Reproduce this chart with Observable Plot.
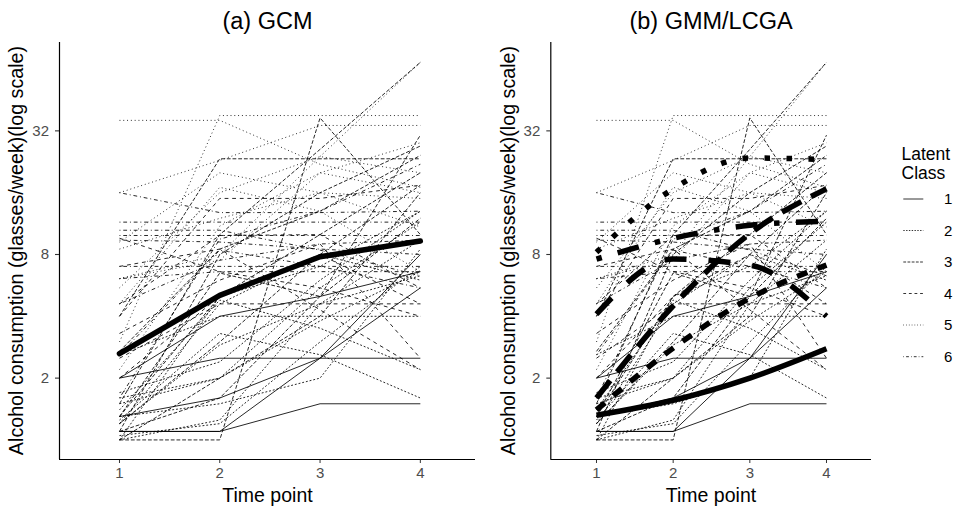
<!DOCTYPE html>
<html>
<head>
<meta charset="utf-8">
<script src="https://cdn.jsdelivr.net/npm/d3@7"></script>
<script src="https://cdn.jsdelivr.net/npm/@observablehq/plot@0.6"></script>
<style>
  body { margin: 0; background: #fff; }
  #wrap { position: relative; width: 962px; height: 509px; overflow: hidden; background: #fff; font-family: "Liberation Sans", Arial, sans-serif; }
  #wrap > svg { position: absolute; top: 0; }
</style>
</head>
<body>
<div id="wrap"></div>
<script>
// ---------------- data ----------------
const classes = [1, 2, 3, 4, 5, 6];
const timePoints = [1, 2, 3, 4];
const yTicks = [2, 8, 32];
const panelTitles = ["(a) GCM", "(b) GMM/LCGA"];
const yTitle = "Alcohol consumption (glasses/week)(log scale)";
const xTitle = "Time point";
const legendTitle = ["Latent", "Class"];

// individual trajectories (glasses/week) at time points 1..4, with latent class
const indivClass = [1, 1, 1, 1, 1,
  2, 2, 2, 2, 2, 2, 2, 2, 2, 2,
  3, 3, 3, 3, 3, 3, 3, 3,
  4, 4, 4, 4, 4, 4,
  5, 5, 5, 5, 5, 5, 5, 5,
  6, 6, 6, 6, 6, 6, 6, 6, 6,
  2, 3, 5, 6, 2, 4, 3, 5];
const t1 = [2.0, 1.1, 1.1, 1.3, 2.0,
  1.5, 1.3, 1.2, 1.6, 1.4, 1.0, 2.6, 1.7, 1.25, 1.05,
  1.0, 4.0, 1.1, 1.3, 1.5, 1.2, 2.7, 1.0,
  4.0, 2.5, 7.0, 9.6, 4.6, 2.0,
  36, 3.0, 16, 6.1, 9.2, 8.5, 5.5, 6.1,
  11.5, 16, 7.0, 9.9, 9.4, 10.5, 4.6, 6.1, 2.6,
  1.0, 1.1, 2.2, 1.6, 1.2, 3.3, 1.3, 4.6];
const t2 = [2.5, 1.1, 1.1, 1.6, 4.0,
  2.0, 1.5, 2.9, 2.0, 4.8, 1.25, 4.0, 2.4, 3.3, 1.2,
  1.0, 23.4, 1.6, 5.0, 10, 3.0, 8.5, 2.0,
  15, 4.6, 8.5, 6.6, 9.9, 5.0,
  36, 38, 23, 8.0, 20, 12, 16, 7.5,
  11.5, 12.8, 7.0, 9.9, 9.2, 10.5, 7.5, 6.6, 8.4,
  5.0, 8.0, 11, 9.5, 4.6, 6.0, 6.5, 17];
const t3 = [2.5, 1.5, 2.5, 2.5, 5.0,
  3.8, 2.0, 4.6, 5.5, 3.5, 4.6, 4.0, 6.0, 2.6, 3.0,
  37, 23.4, 5.0, 10, 26, 8.0, 13, 4.0,
  15, 4.6, 4.3, 5.5, 10, 8.0,
  22, 38, 34, 24, 16, 16, 24, 20,
  11.5, 12.8, 7.0, 9.9, 8.5, 8.4, 9.0, 6.6, 7.0,
  7.0, 16, 20, 13, 8.0, 9.0, 5.0, 13];
const t4 = [2.5, 1.5, 5.5, 8.0, 6.6,
  6.6, 8.5, 9.4, 11.5, 2.2, 6.3, 4.0, 13, 1.6, 7.0,
  10, 23.4, 30.5, 20, 69, 17.4, 24.3, 16,
  17.4, 4.6, 2.2, 4.0, 5.5, 4.6,
  17, 38, 34, 69, 10.9, 15, 20, 16,
  11.5, 13, 7.0, 9.9, 8.0, 6.3, 9.4, 6.6, 5.5,
  13, 27, 28, 22, 6.0, 2.5, 12, 6.6];

// estimated mean trajectories
const gcmMean = [2.63, 5.06, 7.8, 9.3];
const mean1 = [1.32, 1.56, 2.0, 2.78];
const mean2 = [1.4, 2.8, 4.9, 7.1];
const mean3 = [1.6, 4.5, 10.1, 16.7];
const mean4 = [4.1, 7.6, 7.1, 4.0];
const mean5 = [8.2, 16.7, 23.6, 23.2];
const mean6 = [7.6, 9.6, 11.1, 11.6];
const classMeans = [mean1, mean2, mean3, mean4, mean5, mean6];

// ---------------- styles ----------------
const lty = ["solid", "22", "42", "44", "13", "1343"]; // R linetypes per class
function dash(code, u) {
  if (code === "solid") return undefined;
  return code.split("").map(c => (+c * u).toFixed(2)).join(" ");
}
const FONT = "'Liberation Sans', Arial, sans-serif";
const yDomain = [0.803, 86.2];

// ---------------- rows ----------------
const rows = indivClass.flatMap((c, i) =>
  [t1[i], t2[i], t3[i], t4[i]].map((v, j) => ({id: i, cls: c, t: timePoints[j], v})));
const gcmRows = gcmMean.map((v, j) => ({t: timePoints[j], v}));
const meanRows = classMeans.flatMap((m, k) => m.map((v, j) => ({cls: classes[k], t: timePoints[j], v})));

function makePanel({width, marginLeft, xDomain, left}) {
  const marginRight = 5;
  const pxPerUnit = (width - marginLeft - marginRight) / (xDomain[1] - xDomain[0]);
  const tickLo = xDomain[0] - 4 / pxPerUnit;
  const marks = [];
  classes.forEach((c, i) => {
    marks.push(Plot.line(rows.filter(r => r.cls === c), {
      x: "t", y: "v", z: "id", stroke: "#000", strokeWidth: 0.85,
      strokeDasharray: dash(lty[i], 0.95), strokeLinecap: "butt"
    }));
  });
  if (left) {
    marks.push(Plot.line(gcmRows, {x: "t", y: "v", stroke: "#000", strokeWidth: 5.5, strokeLinejoin: "round"}));
  } else {
    classes.forEach((c, i) => {
      marks.push(Plot.line(meanRows.filter(r => r.cls === c), {
        x: "t", y: "v", stroke: "#000", strokeWidth: 5.5, curve: "monotone-x",
        strokeDasharray: dash(lty[i], 5.5), strokeLinecap: "butt"
      }));
    });
  }
  // axis lines
  marks.push(Plot.ruleX([xDomain[0]], {stroke: "#000", strokeWidth: 1.2}));
  marks.push(Plot.ruleY([yDomain[0]], {stroke: "#000", strokeWidth: 1.2}));
  // y ticks and labels
  marks.push(Plot.ruleY(yTicks, {y: d => d, x1: tickLo, x2: xDomain[0], stroke: "#333", strokeWidth: 1.1}));
  marks.push(Plot.text(yTicks, {x: xDomain[0], y: d => d, text: d => String(d), textAnchor: "end", dx: -10.5, fill: "#4d4d4d", fontSize: 15}));
  const svg = Plot.plot({
    width, height: 509,
    marginLeft, marginRight, marginTop: 42, marginBottom: 50,
    x: {domain: xDomain, ticks: timePoints, tickFormat: d => String(d), tickSize: 4, tickPadding: 4, label: null},
    y: {type: "log", domain: yDomain, axis: null},
    style: {fontFamily: FONT, fontSize: "15px", background: "transparent", overflow: "visible"},
    marks
  });
  const s = d3.select(svg);
  s.selectAll("[aria-label='x-axis tick label'] text, [aria-label='x-axis tick label']").attr("fill", "#4d4d4d").style("font-size", "15px");
  s.selectAll("[aria-label='x-axis tick'] path, [aria-label='x-axis tick']").attr("stroke", "#333");
  return svg;
}

const wrap = document.getElementById("wrap");
const pA = makePanel({width: 480, marginLeft: 59, xDomain: [0.402, 4.55], left: true});
pA.style.left = "0px";
wrap.appendChild(pA);
const pB = makePanel({width: 386, marginLeft: 60.3, xDomain: [0.404, 4.587], left: false});
pB.style.left = "490px";
wrap.appendChild(pB);

// ---------------- overlay text & legend ----------------
const ov = d3.select(wrap).append("svg")
  .attr("width", 962).attr("height", 509)
  .style("left", "0px").style("pointer-events", "none")
  .style("font-family", FONT);

const titleX = [267.5, 711];
const yTitleX = [22.7, 515.3];
panelTitles.forEach((t, i) => {
  ov.append("text").attr("x", titleX[i]).attr("y", 28.5).attr("text-anchor", "middle")
    .style("font-size", "23.5px").attr("fill", "#000").text(t);
  ov.append("text").attr("x", titleX[i]).attr("y", 501.5).attr("text-anchor", "middle")
    .style("font-size", "19.5px").attr("fill", "#000").text(xTitle);
  ov.append("text").attr("transform", `translate(${yTitleX[i]},250.5) rotate(-90)`).attr("text-anchor", "middle")
    .style("font-size", "19.7px").attr("fill", "#000").text(yTitle);
});

legendTitle.forEach((t, i) => {
  ov.append("text").attr("x", 901.5).attr("y", 159.5 + i * 19.5)
    .style("font-size", "17.5px").attr("fill", "#000").text(t);
});
const keyY = [199, 230.5, 262, 293.5, 325, 356.7];
classes.forEach((c, i) => {
  ov.append("line").attr("x1", 903.3).attr("x2", 923.3).attr("y1", keyY[i]).attr("y2", keyY[i])
    .attr("stroke", "#000").attr("stroke-width", 0.8)
    .attr("stroke-dasharray", dash(lty[i], 0.7) || null);
  ov.append("text").attr("x", 944).attr("y", keyY[i]).attr("dy", "0.36em")
    .style("font-size", "15px").attr("fill", "#000").text(String(c));
});
</script>
</body>
</html>
